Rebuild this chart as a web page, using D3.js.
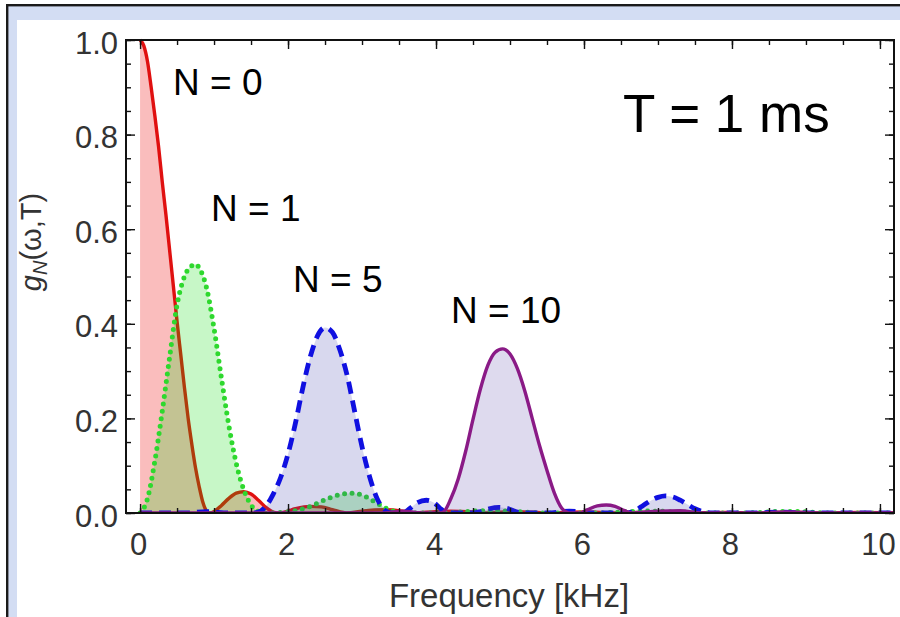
<!DOCTYPE html>
<html>
<head>
<meta charset="utf-8">
<script src="https://cdn.jsdelivr.net/npm/d3@7"></script>
<style>
  html, body { margin: 0; padding: 0; background: #fff; }
  svg { display: block; }
  text { font-family: "Liberation Sans", Arial, Helvetica, sans-serif; }
</style>
</head>
<body>
<svg id="chart" width="900" height="617"></svg>
<script>
// Filter functions g_N(omega, T) for T = 1 ms, as [frequency in kHz, value] pairs
const filterN0 = [[0,1.0],[0.05,0.988],[0.1,0.955],[0.15,0.90],[0.2,0.84],[0.25,0.775],[0.3,0.70],[0.35,0.63],[0.4,0.555],[0.45,0.48],[0.5,0.405],[0.55,0.335],[0.6,0.265],[0.65,0.2],[0.7,0.145],[0.75,0.095],[0.8,0.055],[0.85,0.022],[0.9,0.004],[0.95,0],[1.0,0.003],[1.1,0.016],[1.2,0.031],[1.3,0.042],[1.4,0.045],[1.5,0.04],[1.6,0.027],[1.7,0.012],[1.8,0.002],[1.85,0],[1.95,0.002],[2.1,0.009],[2.3,0.014],[2.45,0.013],[2.6,0.007],[2.75,0.001],[2.8,0],[3.0,0.004],[3.3,0.007],[3.55,0.004],[3.7,0],[4.0,0.003],[4.2,0.004],[4.5,0.002],[4.65,0],[5.1,0.003],[5.5,0],[6.0,0.002],[6.45,0],[7.0,0.002],[7.4,0],[7.9,0.001],[8.3,0],[8.8,0.0015],[9.25,0],[9.7,0.001],[10.2,0]];
const filterN1 = [[0,0],[0.1,0.03],[0.2,0.11],[0.3,0.215],[0.4,0.33],[0.5,0.44],[0.6,0.50],[0.7,0.523],[0.75,0.526],[0.8,0.518],[0.9,0.475],[1.0,0.39],[1.1,0.285],[1.2,0.185],[1.3,0.105],[1.4,0.05],[1.5,0.017],[1.6,0.003],[1.7,0],[1.9,0.001],[2.1,0.005],[2.3,0.014],[2.5,0.028],[2.7,0.039],[2.85,0.042],[3.0,0.038],[3.15,0.026],[3.3,0.012],[3.45,0.003],[3.6,0],[4.1,0],[4.5,0.004],[4.8,0.005],[5.1,0.003],[5.5,0],[6.2,0],[6.6,0.003],[6.9,0.004],[7.3,0.002],[7.6,0],[8.2,0],[8.6,0.003],[8.9,0.003],[9.3,0],[10.2,0]];
const filterN5 = [[0,0],[0.6,0],[0.9,0.003],[1.2,0],[1.5,0],[1.6,0.002],[1.7,0.014],[1.8,0.04],[1.9,0.075],[2.0,0.125],[2.1,0.19],[2.2,0.265],[2.3,0.33],[2.4,0.375],[2.5,0.392],[2.6,0.382],[2.7,0.345],[2.8,0.29],[2.9,0.215],[3.0,0.14],[3.1,0.078],[3.2,0.032],[3.3,0.007],[3.4,0],[3.55,0],[3.65,0.01],[3.75,0.022],[3.87,0.027],[3.98,0.021],[4.07,0.008],[4.15,0],[4.5,0],[4.6,0.003],[4.72,0.009],[4.85,0.012],[4.98,0.009],[5.1,0.002],[5.2,0],[5.5,0],[5.8,0.004],[6.1,0],[6.55,0],[6.7,0.006],[6.8,0.016],[6.9,0.026],[7.0,0.033],[7.1,0.036],[7.2,0.034],[7.3,0.027],[7.4,0.018],[7.5,0.009],[7.6,0.003],[7.75,0],[8.3,0],[8.6,0.002],[9.0,0],[10.2,0]];
const filterN10 = [[0,0],[3.3,0],[3.55,0.004],[3.8,0],[4.05,0],[4.1,0.002],[4.2,0.03],[4.3,0.072],[4.4,0.13],[4.5,0.198],[4.6,0.262],[4.7,0.312],[4.8,0.34],[4.9,0.347],[5.0,0.336],[5.1,0.305],[5.2,0.258],[5.3,0.2],[5.4,0.142],[5.5,0.09],[5.6,0.042],[5.7,0.01],[5.8,0],[5.95,0],[6.05,0.007],[6.18,0.015],[6.3,0.017],[6.42,0.014],[6.55,0.005],[6.65,0],[7.0,0.004],[7.3,0.005],[7.6,0],[8.4,0],[8.7,0.002],[9.2,0],[10.2,0]];

const seriesLabels = ["N = 0", "N = 1", "N = 5", "N = 10"];
const xMajorTicks = [0, 2, 4, 6, 8, 10];
const yMajorTicks = [0, 0.2, 0.4, 0.6, 0.8, 1.0];
const xMinorTicks = d3.range(0, 10.01, 0.5);
const yMinorTicks = d3.range(0, 1.001, 0.05);

const series = [
  { data: filterN0,  line: "#e01010", fill: "rgba(240,50,50,0.32)", width: 3.4, dash: null,   cap: "butt"  },
  { data: filterN1,  line: "#2ed82e", fill: "rgba(0,220,0,0.22)",   width: 5,   dash: "0 7.5", cap: "round" },
  { data: filterN5,  line: "#1010e0", fill: "rgba(60,60,170,0.2)",  width: 4.8, dash: "12 7", cap: "butt"  },
  { data: filterN10, line: "#8a1a86", fill: "rgba(90,70,170,0.2)",  width: 3.4, dash: null,   cap: "butt"  }
];

const svg = d3.select("#chart");
const W = 900, H = 617;
const plot = { left: 126, right: 894, top: 40, bottom: 513 };

// slide-style border: dark rule with a pale blue band
svg.append("rect").attr("x", 0).attr("y", 0).attr("width", W).attr("height", H).attr("fill", "#fff");
svg.append("rect").attr("x", 8).attr("y", 6).attr("width", W - 8).attr("height", 14).attr("fill", "#d3ddf3");
svg.append("rect").attr("x", 8).attr("y", 6).attr("width", 9).attr("height", H - 6).attr("fill", "#d3ddf3");
svg.append("rect").attr("x", 6).attr("y", 4).attr("width", W - 6).attr("height", 2.4).attr("fill", "#1a1a1a");
svg.append("rect").attr("x", 6).attr("y", 4).attr("width", 2.4).attr("height", H - 4).attr("fill", "#1a1a1a");

const x = d3.scaleLinear().domain([-0.19, 10.19]).range([plot.left, plot.right]);
const y = d3.scaleLinear().domain([0, 1]).range([plot.bottom, plot.top]);

svg.append("clipPath").attr("id", "plotClip")
  .append("rect").attr("x", plot.left).attr("y", plot.top - 3)
  .attr("width", plot.right - plot.left).attr("height", plot.bottom - plot.top + 3);

const g = svg.append("g").attr("clip-path", "url(#plotClip)");

const area = d3.area().x(d => x(d[0])).y0(y(0)).y1(d => y(d[1])).curve(d3.curveMonotoneX);
const line = d3.line().x(d => x(d[0])).y(d => y(d[1])).curve(d3.curveMonotoneX);

series.forEach(s => {
  g.append("path").datum(s.data).attr("d", area).attr("fill", s.fill).attr("stroke", "none");
  const p = g.append("path").datum(s.data).attr("d", line)
    .attr("fill", "none").attr("stroke", s.line).attr("stroke-width", s.width)
    .attr("stroke-linecap", s.cap).attr("stroke-linejoin", "round");
  if (s.dash) p.attr("stroke-dasharray", s.dash);
});

// axes: ticks point inward on every side of the frame
const tickColor = "#111";
const labelColor = "#333";
function styleAxis(sel) {
  sel.select(".domain").remove();
  sel.selectAll(".tick line").attr("stroke", tickColor).attr("stroke-width", 1.4);
}

svg.append("g").attr("transform", `translate(0,${plot.bottom})`)
  .call(d3.axisBottom(x).tickValues(xMinorTicks).tickSize(-5).tickFormat(""))
  .call(styleAxis);
svg.append("g").attr("transform", `translate(0,${plot.top})`)
  .call(d3.axisTop(x).tickValues(xMinorTicks).tickSize(-5).tickFormat(""))
  .call(styleAxis);
svg.append("g").attr("transform", `translate(${plot.left},0)`)
  .call(d3.axisLeft(y).tickValues(yMinorTicks).tickSize(-5).tickFormat(""))
  .call(styleAxis);
svg.append("g").attr("transform", `translate(${plot.right},0)`)
  .call(d3.axisRight(y).tickValues(yMinorTicks).tickSize(-5).tickFormat(""))
  .call(styleAxis);

const xAxis = svg.append("g").attr("transform", `translate(0,${plot.bottom})`)
  .call(d3.axisBottom(x).tickValues(xMajorTicks).tickSize(-9).tickPadding(20).tickFormat(d3.format("d")))
  .call(styleAxis);
xAxis.selectAll(".tick text").attr("font-size", 31).attr("fill", labelColor).attr("dx", -2)
  .style("font-family", '"Liberation Sans", Arial, sans-serif');

svg.append("g").attr("transform", `translate(0,${plot.top})`)
  .call(d3.axisTop(x).tickValues(xMajorTicks).tickSize(-9).tickFormat(""))
  .call(styleAxis);

const yAxis = svg.append("g").attr("transform", `translate(${plot.left},0)`)
  .call(d3.axisLeft(y).tickValues(yMajorTicks).tickSize(-9).tickPadding(8).tickFormat(d3.format(".1f")))
  .call(styleAxis);
yAxis.selectAll(".tick text").attr("font-size", 31).attr("fill", labelColor).attr("dy", "0.42em")
  .style("font-family", '"Liberation Sans", Arial, sans-serif');

svg.append("g").attr("transform", `translate(${plot.right},0)`)
  .call(d3.axisRight(y).tickValues(yMajorTicks).tickSize(-9).tickFormat(""))
  .call(styleAxis);

// frame
svg.append("rect").attr("x", plot.left).attr("y", plot.top)
  .attr("width", plot.right - plot.left).attr("height", plot.bottom - plot.top)
  .attr("fill", "none").attr("stroke", "#111").attr("stroke-width", 2);

// axis titles
svg.append("text").attr("x", 509).attr("y", 607).attr("text-anchor", "middle")
  .attr("font-size", 33).attr("fill", labelColor).text("Frequency [kHz]");

const yTitle = svg.append("text")
  .attr("transform", "translate(41,242) rotate(-90)")
  .attr("text-anchor", "middle").attr("font-size", 29).attr("fill", labelColor);
yTitle.append("tspan").attr("font-style", "italic").text("g");
yTitle.append("tspan").attr("font-style", "italic").attr("font-size", 20).attr("dy", 6).text("N");
yTitle.append("tspan").attr("dy", -6).text("(ω,T)");

// series annotations
const labelPos = [[173, 95], [211, 221], [293, 292], [451, 323]];
seriesLabels.forEach((t, i) => {
  svg.append("text").attr("x", labelPos[i][0]).attr("y", labelPos[i][1])
    .attr("font-size", 37).attr("fill", "#000").text(t);
});

svg.append("text").attr("x", 623).attr("y", 132).attr("font-size", 53).attr("fill", "#000").text("T = 1 ms");
</script>
</body>
</html>
